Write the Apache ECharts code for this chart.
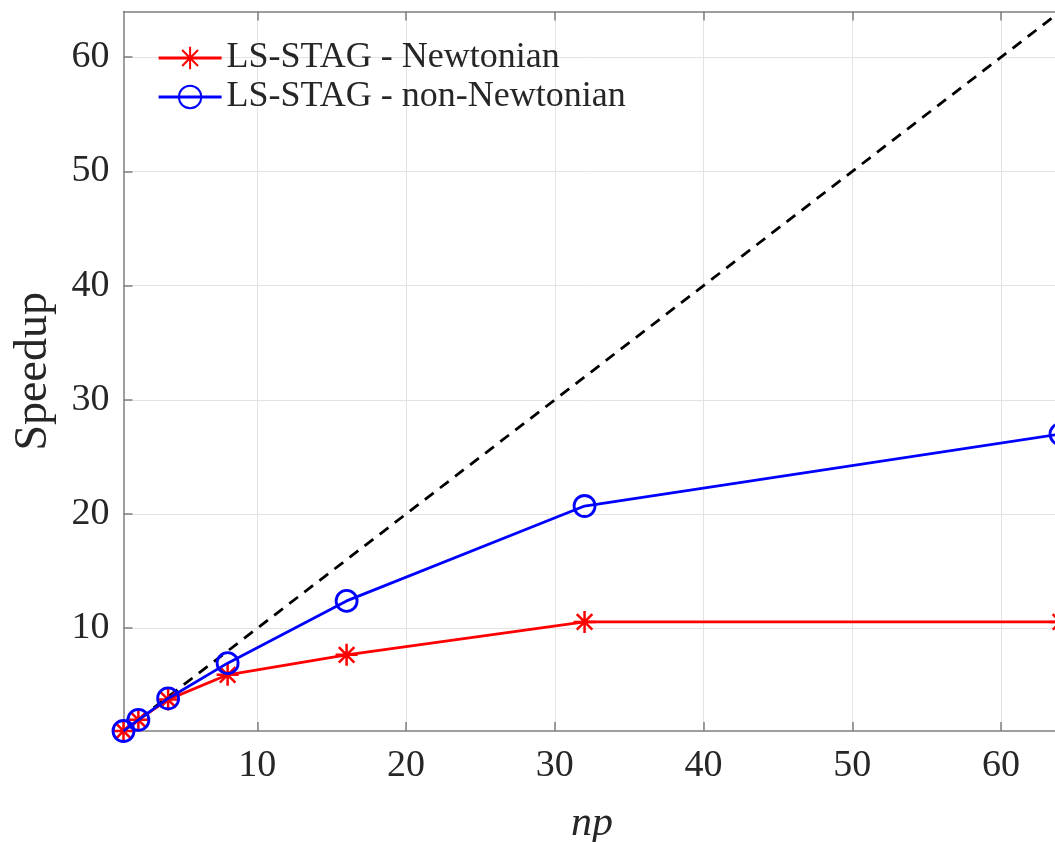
<!DOCTYPE html>
<html>
<head>
<meta charset="utf-8">
<script src="https://cdn.jsdelivr.net/npm/echarts@6/dist/echarts.min.js"></script>
<style>
html,body{margin:0;padding:0;background:#fff;}
#main{width:1055px;height:842px;}
</style>
</head>
<body>
<div id="main"></div>
<script>
const np = [1, 2, 4, 8, 16, 32, 64];
const newtonian = [1, 1.98, 3.75, 5.92, 7.67, 10.55, 10.55];
const nonNewtonian = [1, 1.97, 3.85, 6.94, 12.39, 20.7, 27.0];
const ideal = [[1, 1], [64, 64]];
const tickValues = [10, 20, 30, 40, 50, 60];
const seriesNames = ['LS-STAG - Newtonian', 'LS-STAG - non-Newtonian'];

const FONT = '"Liberation Serif", "DejaVu Serif", serif';
const AXIS_COLOR = '#7f7f7f';
const asterisk = 'path://M0,-10L0,10M-10,0L10,0M-7.07,-7.07L7.07,7.07M-7.07,7.07L7.07,-7.07';

const chart = echarts.init(document.getElementById('main'), null, {renderer: 'canvas'});

const xCommon = {
  type: 'value', min: 1, max: 64,
  axisLine: {show: true, onZero: false, lineStyle: {color: AXIS_COLOR, width: 1.5}},
  axisTick: {show: true, inside: true, length: 9, customValues: tickValues, lineStyle: {color: AXIS_COLOR, width: 1.5}}
};

chart.setOption({
  backgroundColor: '#ffffff',
  animation: false,
  grid: {left: 123.5, right: -5.5, top: 11.5, bottom: 111, containLabel: false, outerBoundsMode: 'none'},
  legend: {
    left: 157, top: 40, orient: 'vertical',
    data: seriesNames,
    itemWidth: 63, itemHeight: 28, itemGap: 3,
    lineStyle: {width: 3.2},
    textStyle: {fontFamily: FONT, fontSize: 36, color: '#262626', padding: [0, 0, 0, 0]},
    padding: 0
  },
  xAxis: [
    Object.assign({}, xCommon, {
      position: 'bottom',
      name: 'np', nameLocation: 'middle', nameGap: 72,
      nameTextStyle: {fontFamily: FONT, fontStyle: 'italic', fontSize: 42, color: '#262626'},
      axisLabel: {show: true, customValues: tickValues, margin: 16, fontFamily: FONT, fontSize: 38, color: '#262626'},
      splitLine: {show: true, lineStyle: {color: '#e3e3e3', width: 1}}
    }),
    Object.assign({}, xCommon, {
      position: 'top',
      axisLabel: {show: false},
      splitLine: {show: false}
    })
  ],
  yAxis: [{
    type: 'value', min: 1, max: 64,
    position: 'left',
    name: 'Speedup', nameLocation: 'middle', nameGap: 67, nameRotate: 90,
    nameTextStyle: {fontFamily: FONT, fontSize: 46, color: '#262626'},
    axisLine: {show: true, onZero: false, lineStyle: {color: AXIS_COLOR, width: 1.5}},
    axisTick: {show: true, inside: true, length: 9, customValues: tickValues, lineStyle: {color: AXIS_COLOR, width: 1.5}},
    axisLabel: {show: true, customValues: tickValues, margin: 14, fontFamily: FONT, fontSize: 38, color: '#262626'},
    splitLine: {show: true, lineStyle: {color: '#e3e3e3', width: 1}}
  }],
  series: [
    {
      name: 'ideal', type: 'line', data: ideal, symbol: 'none', silent: true,
      lineStyle: {color: '#000000', width: 2.8, type: [11, 8]}, z: 1
    },
    {
      name: seriesNames[0], type: 'line',
      data: np.map((v, i) => [v, newtonian[i]]),
      symbol: asterisk, symbolSize: 22,
      lineStyle: {color: '#ff0000', width: 2.8},
      itemStyle: {color: 'rgba(0,0,0,0)', borderColor: '#ff0000', borderWidth: 2.5},
      z: 2
    },
    {
      name: seriesNames[1], type: 'line',
      data: np.map((v, i) => [v, nonNewtonian[i]]),
      symbol: 'circle', symbolSize: 21,
      lineStyle: {color: '#0000ff', width: 2.8},
      itemStyle: {color: 'rgba(0,0,0,0)', borderColor: '#0000ff', borderWidth: 2.8},
      z: 3
    }
  ]
});
</script>
</body>
</html>
